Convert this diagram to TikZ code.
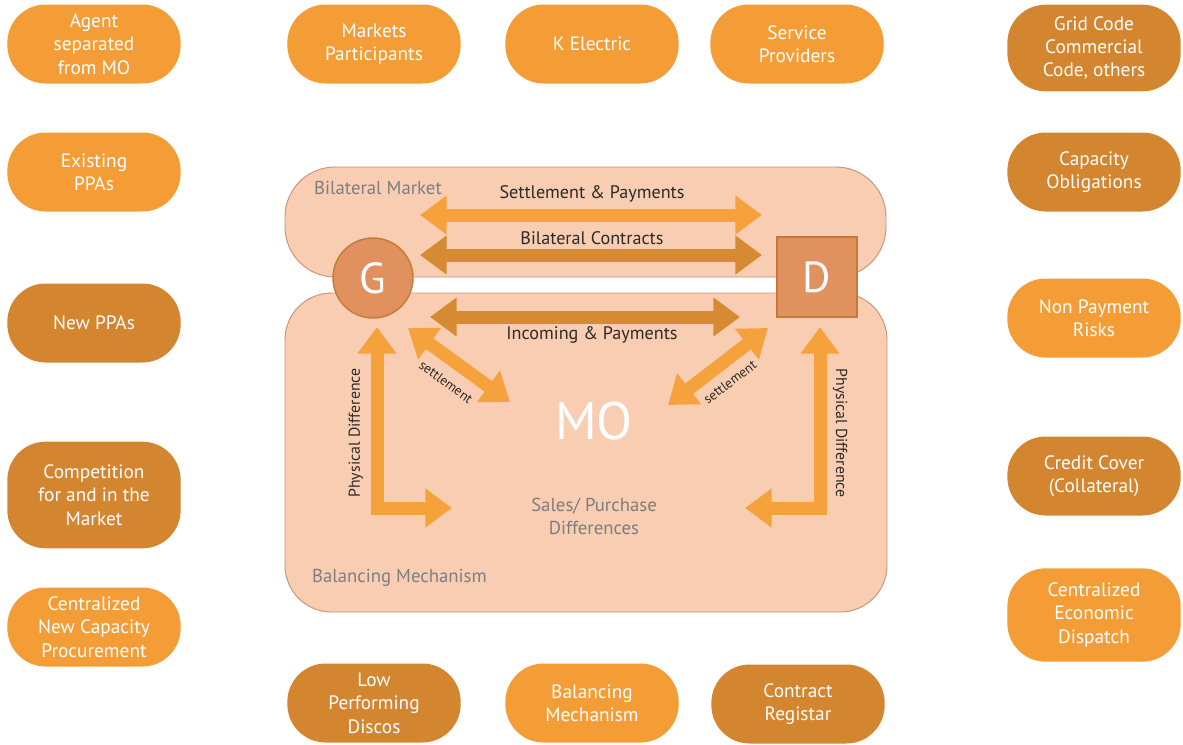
\documentclass[tikz,border=0pt]{standalone}
\usepackage{fontspec}
\setmainfont{PT Sans}
\usetikzlibrary{arrows.meta,positioning}

\definecolor{pilllt}{HTML}{F49D37}
\definecolor{pilldk}{HTML}{D4852F}
\definecolor{zonefill}{HTML}{F8CDB2}
\definecolor{zoneline}{HTML}{C99470}
\definecolor{gdfill}{HTML}{E0915E}
\definecolor{gdline}{HTML}{C67838}
\definecolor{arrlt}{HTML}{F5A23C}
\definecolor{arrdk}{HTML}{D68A31}
\definecolor{labelgray}{HTML}{7E7E7E}
\definecolor{labeldark}{HTML}{2E2A26}

\tikzset{
  pill/.style={rounded corners=1.15cm, minimum width=5.2cm, minimum height=2.37cm,
    align=center, text=white, inner sep=2pt, font=\fontsize{16.5}{20}\selectfont},
  lightpill/.style={pill, fill=pilllt},
  darkpill/.style={pill, fill=pilldk},
  zone/.style={fill=zonefill, draw=zoneline, line width=0.8pt},
  party/.style={fill=gdfill, draw=gdline, line width=1.2pt, minimum size=2.4cm,
    text=white, font=\fontsize{37}{37}\selectfont},
  flow/.style={line width=0.39cm,
    {Triangle[length=0.8cm,width=1.12cm]}-{Triangle[length=0.8cm,width=1.12cm]}},
  tag/.style={text=labeldark, inner sep=1pt, font=\fontsize{15.5}{18}\selectfont},
  greytag/.style={text=labelgray, font=\fontsize{16}{19.5}\selectfont, align=center}
}

\begin{document}
\begin{tikzpicture}[x=0.03cm,y=-0.03cm]
  \useasboundingbox (0,0) rectangle (1183,744);

  % left column
  \node[lightpill] (agent) at (94,44) {Agent\\separated\\from MO};
  \node[lightpill] (oldppa) at (94,172) {Existing\\PPAs};
  \node[darkpill] (newppa) at (94,323) {New PPAs};
  \node[darkpill, minimum height=3.2cm] (compete) at (94,495) {Competition\\for and in the\\Market};
  \node[lightpill] (procure) at (94,627) {Centralized\\New Capacity\\Procurement};

  % right column
  \node[darkpill, minimum height=2.6cm] (grid) at (1094,48) {Grid Code\\Commercial\\Code, others};
  \node[darkpill] (capob) at (1094,172) {Capacity\\Obligations};
  \node[lightpill] (nonpay) at (1094,318) {Non Payment\\Risks};
  \node[darkpill] (credit) at (1094,476) {Credit Cover\\(Collateral)};
  \node[lightpill, minimum height=2.8cm] (dispatch) at (1094,615) {Centralized\\Economic\\Dispatch};

  % top and bottom rows
  \node[lightpill] (mp) at (374,44) {Markets\\Participants};
  \node[lightpill] (ke) at (592,44) {K Electric};
  \node[lightpill] (sp) at (797,44) {Service\\Providers};
  \node[darkpill] (lpd) at (374,703) {Low\\Performing\\Discos};
  \node[lightpill] (bm) at (592,703) {Balancing\\Mechanism};
  \node[darkpill] (reg) at (798,704) {Contract\\Registar};

  % market areas
  \draw[zone, rounded corners=1.5cm] (285,167) rectangle (886,277);
  \draw[zone, rounded corners=1.4cm] (285,293) rectangle (887,612);
  \node[greytag, anchor=west] (bilat) at (310,188) {Bilateral Market};
  \node[greytag, anchor=west] (balmech) at (308,578) {Balancing Mechanism};

  \node[party, circle] (g) at (373,278) {G};
  \node[party, rectangle] (d) at (817,277) {D};
  \node[text=white, font=\fontsize{45}{45}\selectfont] (mo) at (594,421) {MO};
  \node[greytag] (spd) [below=1.5cm of mo] {Sales/ Purchase\\Differences};

  \coordinate (set_l) at (420,215);  \coordinate (set_r) at (762,215);
  \coordinate (con_l) at (420,255);  \coordinate (con_r) at (762,255);
  \coordinate (inc_l) at (430,317);  \coordinate (inc_r) at (740,317);
  \coordinate (gs_a) at (408,328);   \coordinate (gs_b) at (510,402);
  \coordinate (ds_a) at (768,328);   \coordinate (ds_b) at (668,405);
  \coordinate (gp_a) at (377,327);   \coordinate (gp_b) at (452,508);
  \coordinate (dp_a) at (820,327);   \coordinate (dp_b) at (745,508);

  \draw[flow, arrlt] (set_l) -- (set_r);
  \draw[flow, arrdk] (con_l) -- (con_r);
  \draw[flow, arrdk] (inc_l) -- (inc_r);
  \draw[flow, arrlt] (gs_a) -- (gs_b);
  \draw[flow, arrlt] (ds_a) -- (ds_b);
  \draw[flow, arrlt] (gp_a) |- (gp_b);
  \draw[flow, arrlt] (dp_a) |- (dp_b);

  \node[tag] (t_set) at (592,194) {Settlement \& Payments};
  \node[tag] (t_con) at (592,238) {Bilateral Contracts};
  \node[tag] (t_inc) at (592,335) {Incoming \& Payments};
  \node[tag, font=\fontsize{11.5}{12}\selectfont, rotate=-36] (t_gs) at (446,382) {settlement};
  \node[tag, font=\fontsize{11.5}{12}\selectfont, rotate=37] (t_ds) at (730,382) {settlement};
  \node[tag, font=\fontsize{13.5}{14}\selectfont, rotate=90] (t_gp) at (356,433) {Physical Difference};
  \node[tag, font=\fontsize{13.5}{14}\selectfont, rotate=-90] (t_dp) at (840,433) {Physical Difference};
\end{tikzpicture}
\end{document}
